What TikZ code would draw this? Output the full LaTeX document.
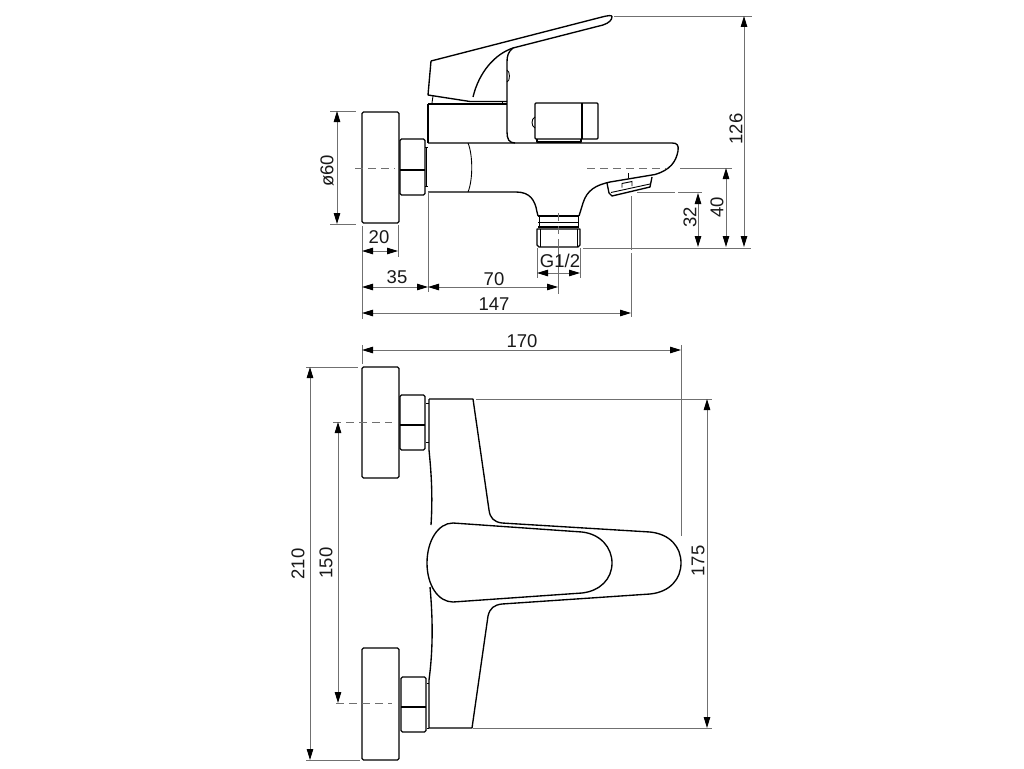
\documentclass[tikz,border=0pt]{standalone}
\usepackage{fontspec}
\setmainfont{Liberation Sans}
\usetikzlibrary{arrows.meta}
\definecolor{dimgray}{HTML}{707070}
\tikzset{
  outline/.style={draw=black,line width=1.35pt,line join=round},
  thin outline/.style={draw=black,line width=0.9pt},
  extline/.style={draw=dimgray,line width=0.9pt},
  centerline/.style={draw=dimgray,line width=1pt,dash pattern=on 8pt off 5pt},
  dimline/.style={draw=dimgray,line width=1pt,{Triangle[length=11pt,width=6.5pt,black]}-{Triangle[length=11pt,width=6.5pt,black]}},
  dimtext/.style={font=\fontsize{18.5}{19}\selectfont,text=black!90,inner sep=0pt},
}
\begin{document}
\begin{tikzpicture}[x=1pt,y=-1pt]
\useasboundingbox[fill=white] (0,0) rectangle (1024,768);
% ---------- SIDE VIEW ----------
% handle
\draw[outline] (431,61) -- (428,95) -- (470,101.5) -- (507,101.5);
\draw[outline] (431,61) -- (602,17) .. controls (608,15.5) and (612,15) .. (612,16.5)
  .. controls (612,20) and (609,23) .. (603,25) -- (513,48)
  .. controls (495,54) and (479,72) .. (473,97);
\draw[outline] (513,48) .. controls (508,52) and (507,56) .. (507,62) -- (507,132)
  .. controls (507,139) and (509,143) .. (515,143);
\draw[thin outline] (507,70) .. controls (510,71) and (510.5,81) .. (507,82);
\draw[thin outline] (433,96) -- (432,103);
\draw[thin outline] (502,102) -- (502,104);
% body
\draw[outline] (428,104) -- (507,104);
\draw[outline] (428,104) -- (428,143);
% spout
\draw[outline] (428,143) -- (672,143) .. controls (677,143) and (679,145) .. (678,151)
  .. controls (676,162) and (670,170) .. (655,174.5)
  .. controls (640,177) and (628,179) .. (610,182)
  .. controls (596,185) and (587,190) .. (583,203) -- (579,216);
\draw[outline] (428,192) -- (516,192) .. controls (530,192) and (535,200) .. (537,212) -- (538,216);
\draw[thin outline] (468,143) .. controls (473,155) and (473,180) .. (468,192);
% spool on the spout
\draw[outline,rounded corners=1pt] (535,103) rectangle (598,139);
\draw[outline] (582,103) -- (582,139);
\draw[thin outline] (535,117) .. controls (531,119) and (531,126) .. (535,128);
\draw[outline] (537,139) -- (537,142) -- (581,142) -- (581,139);
% wall flange
\draw[outline,rounded corners=1.5pt] (362,223) -- (362,112) -- (399,112) -- (399,223) -- cycle;
% nut
\draw[outline,rounded corners=1.5pt] (400,139) -- (425,139) -- (425,195) -- (400,195) -- cycle;
\draw[outline] (400,170) -- (425,170);
\draw[thin outline] (425,147) -- (428,147) (425,186) -- (428,186);
\draw[thin outline] (426.5,147) -- (426.5,186);
% threaded connector
\draw[outline] (538,216) -- (579,216);
\draw[thin outline] (539,216) -- (539,227) (578,216) -- (578,227);
\draw[thin outline] (538,222) -- (579,222);
\draw[outline] (538,227) -- (579,227);
\draw[outline] (537,229) -- (580,229) -- (580,245) -- (578,247) -- (539,247) -- (537,245) -- cycle;
\draw[thin outline] (540,229) -- (540,247) (577,229) -- (577,247);
% aerator
\draw[outline] (607,183) -- (609,193) -- (612,196) -- (650,187) -- (652,177);
\draw[thin outline] (611,192.5) -- (650,184);
\draw[thin outline] (622,187.5) -- (622,183.5) -- (632,181.5) -- (632,186);
\draw[thin outline] (628,173) -- (628,178);
% centre lines
\draw[centerline] (355,168) -- (395,168);
\draw[centerline] (587,168) -- (667,168);
\draw[centerline] (558,213) -- (558,247);
% extension lines
\draw[extline] (614,16) -- (752,16);
\draw[extline] (680,168) -- (732,168);
\draw[extline] (637,192.5) -- (675,192.5) (678,192.5) -- (702,192.5);
\draw[extline] (583,248) -- (751,248);
\draw[extline] (330,111) -- (356,111) (330,224) -- (356,224);
\draw[extline] (362,226) -- (362,319);
\draw[extline] (398,225) -- (398,257);
\draw[extline] (428,192) -- (428,292);
\draw[extline] (558,248) -- (558,294);
\draw[extline] (537,248) -- (537,278);
\draw[extline] (580,248) -- (580,278);
\draw[extline] (631,196) -- (631,250) (631,253) -- (631,317);
% dimensions
\draw[dimline] (744,16) -- (744,247);
\draw[dimline] (726,168) -- (726,247);
\draw[dimline] (698,193) -- (698,247);
\draw[dimline] (337,111) -- (337,224);
\draw[dimline] (362,251) -- (398,251);
\draw[dimline] (362,287) -- (428,287);
\draw[dimline] (428,287) -- (558,287);
\draw[dimline] (362,313) -- (631,313);
\draw[dimline] (537,273) -- (580,273);
\node[dimtext,rotate=90] (t126) at (736,129) {126};
\node[dimtext,rotate=90] (t40) at (717,207) {40};
\node[dimtext,rotate=90] (t32) at (690,217) {32};
\node[dimtext,rotate=90] (t60) at (327,171) {ø60};
\node[dimtext] (t20) at (379,237) {20};
\node[dimtext] (t35) at (397,277) {35};
\node[dimtext] (t70) at (494,279) {70};
\node[dimtext] (t147) at (494,304) {147};
\node[dimtext] (tg) at (560,261) {G1/2};
% ---------- TOP VIEW ----------
% flanges
\draw[outline,rounded corners=1.5pt] (362,478) -- (362,367) -- (399,367) -- (399,478) -- cycle;
\draw[outline,rounded corners=1.5pt] (362,760) -- (362,648) -- (399,648) -- (399,760) -- cycle;
% nuts
\draw[outline,rounded corners=1.5pt] (400,395) -- (425,395) -- (425,450) -- (400,450) -- cycle;
\draw[outline] (400,425) -- (425,425);
\draw[outline,rounded corners=1.5pt] (401,677) -- (426,677) -- (426,732) -- (401,732) -- cycle;
\draw[outline] (401,707) -- (426,707);
\draw[thin outline] (426,403) -- (429,403) (426,442) -- (429,442);
\draw[thin outline] (427,683) -- (429,683) (427,728) -- (429,728);
% body
\draw[outline] (429,399) -- (429,450) .. controls (431,470) and (433,495) .. (431,525);
\draw[outline] (429,399) -- (473,399) -- (489,510)
  .. controls (490,518) and (494,522) .. (502,523)
  -- (650,532) .. controls (670,534) and (681,547) .. (681,563)
  .. controls (681,579) and (670,592) .. (650,594)
  -- (502,604) .. controls (494,605) and (490,608) .. (488,616)
  -- (472,728) -- (429,728) -- (429,680)
  .. controls (433,650) and (433,620) .. (430,587);
% lever
\draw[outline] (453,523) -- (582,532) .. controls (600,534) and (612,547) .. (612,563)
  .. controls (612,579) and (600,591) .. (582,593)
  -- (453,602) .. controls (438,602) and (427,585) .. (427,563)
  .. controls (427,541) and (438,523) .. (453,523) -- cycle;
% centre lines
\draw[centerline] (333,422) -- (392,422);
\draw[centerline] (336,703) -- (392,703);
% extension lines
\draw[extline] (362,345) -- (362,364);
\draw[extline] (681,345) -- (681,536);
\draw[extline] (306,367) -- (358,367);
\draw[extline] (306,760) -- (360,760);
\draw[extline] (476,399) -- (712,399);
\draw[extline] (473,728) -- (712,728);
% dimensions
\draw[dimline] (362,350) -- (681,350);
\draw[dimline] (310,367) -- (310,760);
\draw[dimline] (338,422) -- (338,703);
\draw[dimline] (707,399) -- (707,728);
\node[dimtext] (t170) at (522,341) {170};
\node[dimtext,rotate=90] (t210) at (298,564) {210};
\node[dimtext,rotate=90] (t150) at (326,563) {150};
\node[dimtext,rotate=90] (t175) at (698,561) {175};
\end{tikzpicture}
\end{document}
